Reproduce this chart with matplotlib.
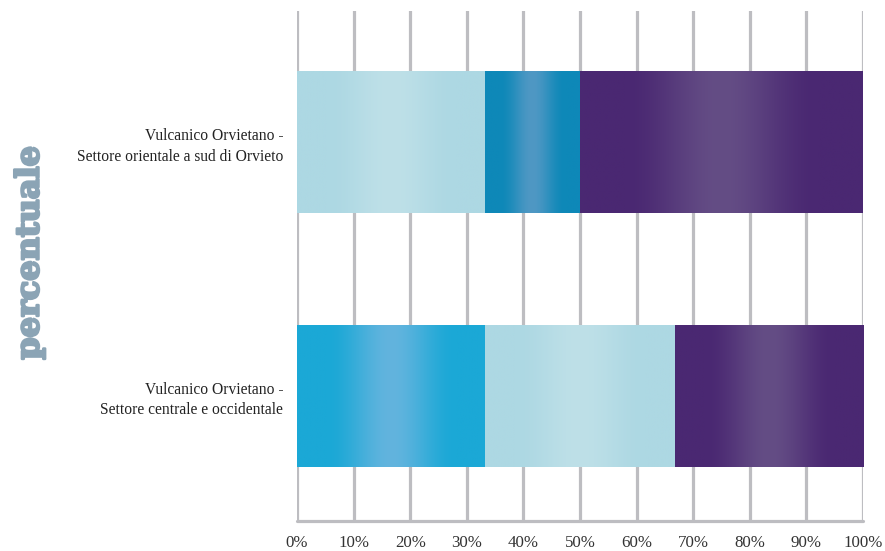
import numpy as np
import matplotlib
matplotlib.use("Agg")
import matplotlib.pyplot as plt
import matplotlib.patheffects as pe
from matplotlib.colors import to_rgb

# Data: share (%) of each class per sector
categories = ["Vulcanico Orvietano -\nSettore orientale a sud di Orvieto",
              "Vulcanico Orvietano -\nSettore centrale e occidentale"]
series_a = [33.3, 0.0]     # light blue
series_b = [16.7, 0.0]     # deep blue
series_c = [0.0, 33.3]     # bright blue
series_d = [0.0, 33.4]     # light blue (second position)
series_e = [50.0, 33.3]    # purple
tick_values = [0, 10, 20, 30, 40, 50, 60, 70, 80, 90, 100]
tick_labels = [f"{v}%" for v in tick_values]

# (edge colour, centre colour) of each horizontal gradient
LIGHT = ("#ADD8E3", "#BEE0E8")
DEEP = ("#0E88B8", "#4F98C4")
BRIGHT = ("#1BA8D6", "#62B4DE")
PURPLE = ("#4A2872", "#644D85")

# Stacking order per row
row_segments = [
    [(series_a[0], LIGHT), (series_b[0], DEEP), (series_e[0], PURPLE)],
    [(series_c[1], BRIGHT), (series_d[1], LIGHT), (series_e[1], PURPLE)],
]

fig = plt.figure(figsize=(8.85, 5.51), dpi=100)
ax = fig.add_axes([297 / 885, 1 - 521 / 551, (863 - 297) / 885, (521 - 11) / 551])

GRID = "#BDBDC1"
for v in tick_values:
    ax.axvline(v, color=GRID, lw=2.3, zorder=0)

t = np.linspace(0, 1, 256)
profile = np.clip(1 - np.abs(t - 0.5) / 0.34, 0, 1)
profile = profile * profile * (3 - 2 * profile)

bar_h = 0.56
for yi, segs in enumerate(row_segments):
    left = 0.0
    for width, (edge, centre) in segs:
        if width <= 0:
            continue
        e = np.array(to_rgb(edge))
        c = np.array(to_rgb(centre))
        bar = ax.barh(yi, width, left=left, height=bar_h, color=edge,
                      edgecolor="none", zorder=2)[0]
        grad = e[None, :] + (c - e)[None, :] * profile[:, None]
        img = ax.imshow(grad[None, :, :], extent=[left, left + width,
                                                  yi + bar_h / 2, yi - bar_h / 2],
                        aspect="auto", interpolation="bilinear", zorder=3)
        img.set_clip_path(bar)
        left += width

ax.set_xlim(0, 100)
ax.set_ylim(1.495, -0.517)

for s in ["top", "right", "left"]:
    ax.spines[s].set_visible(False)
ax.spines["bottom"].set_color(GRID)
ax.spines["bottom"].set_linewidth(2.3)
ax.spines["bottom"].set_capstyle("round")

ax.set_xticks(tick_values)
ax.set_xticklabels(tick_labels, family="Liberation Serif", fontsize=12.2, color="#333333")
ax.tick_params(axis="x", length=0, pad=10)

ax.set_yticks(range(len(categories)))
ax.set_yticklabels(categories, family="Liberation Serif", fontsize=11.2,
                   color="#222222", linespacing=1.4, ha="right")
ax.tick_params(axis="y", length=0, pad=10)

fig.text(30 / 885, 1 - 253 / 551, "percentuale", rotation=90, ha="center", va="center",
         family="DejaVu Serif", fontweight="bold", fontsize=23, color="#8BA4B5",
         path_effects=[pe.withStroke(linewidth=1.8, foreground="#8BA4B5")])

fig.savefig("out.png", dpi=100, facecolor="white")
